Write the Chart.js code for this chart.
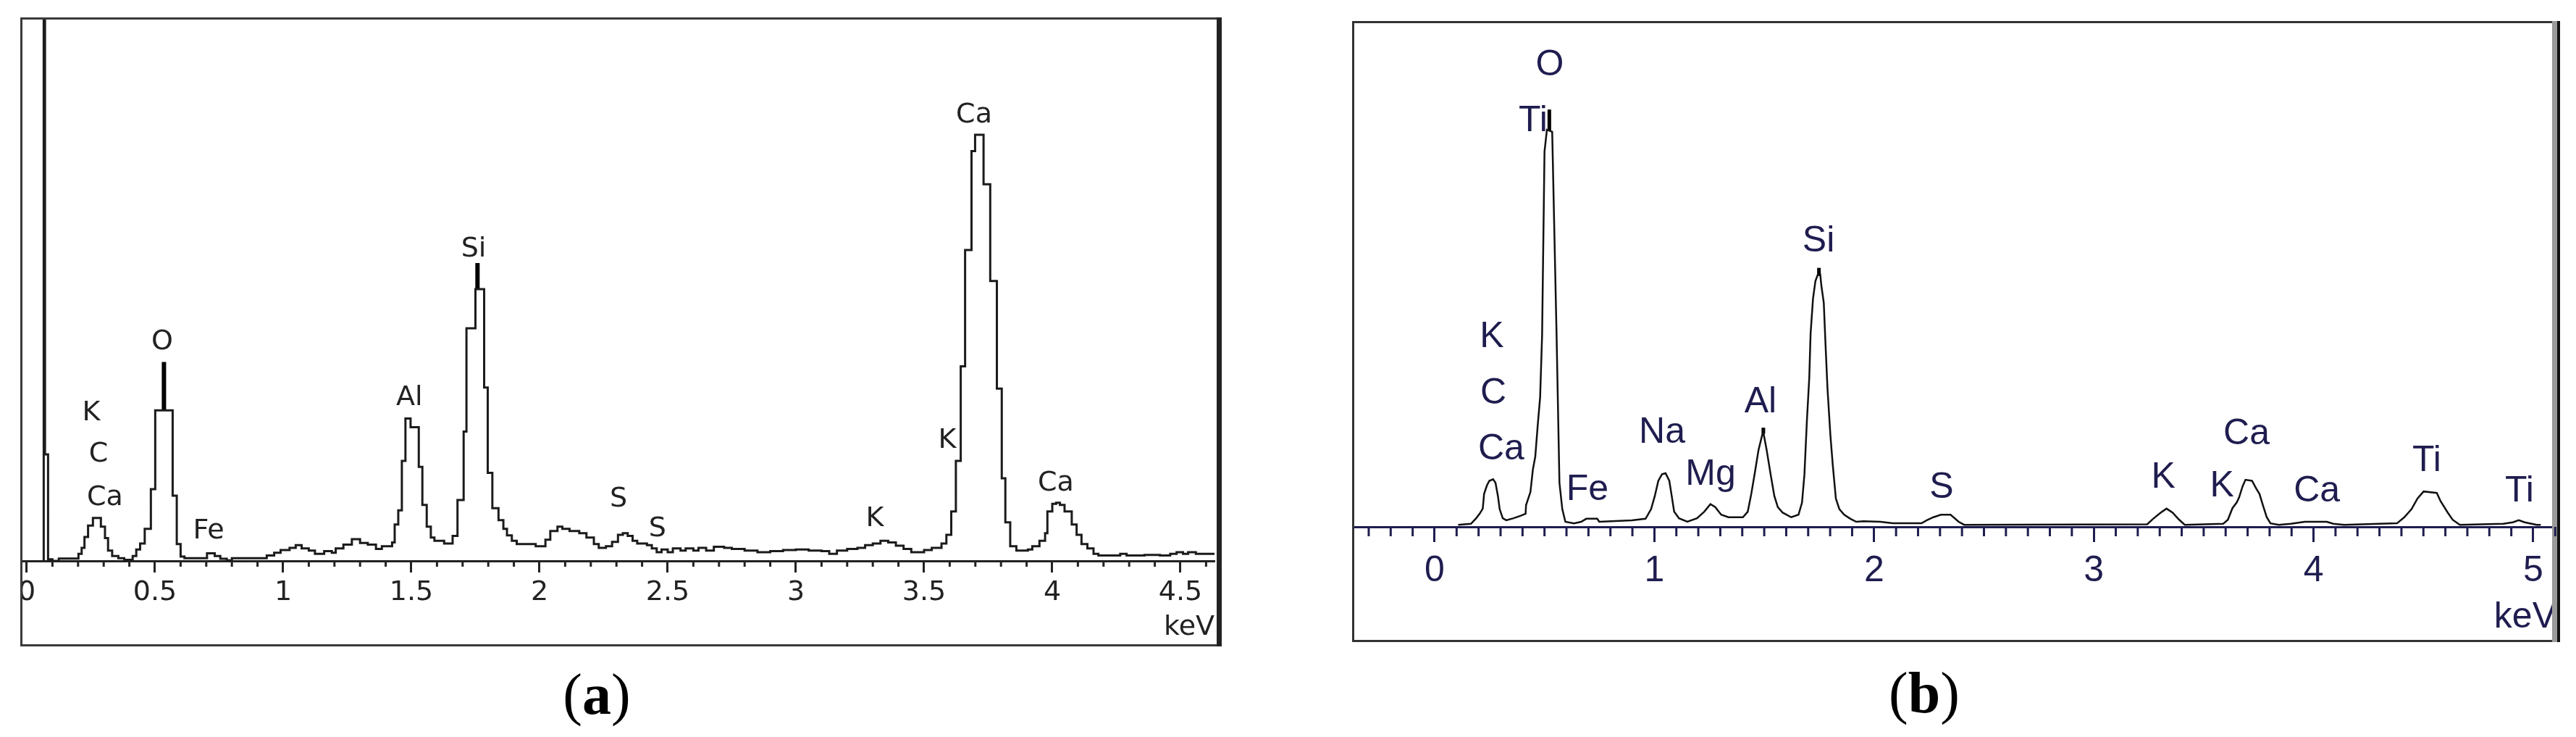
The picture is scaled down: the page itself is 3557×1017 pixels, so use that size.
<!DOCTYPE html>
<html>
<head>
<meta charset="utf-8">
<script src="https://cdn.jsdelivr.net/npm/chart.js"></script>
<style>
  html, body { margin: 0; padding: 0; background: #fff; }
  body { width: 3557px; height: 1017px; position: relative; overflow: hidden; }
  canvas { position: absolute; }
  #chartA { left: 28px; top: 24px; }
  #chartB { left: 1867px; top: 29px; }
  .tag { position: absolute; width: 200px; text-align: center; font-family: "Liberation Serif", serif; font-size: 80px; line-height: 80px; color: #000; }
</style>
</head>
<body>
<canvas id="chartA" width="1659" height="868"></canvas>
<canvas id="chartB" width="1668" height="857"></canvas>
<div class="tag" style="left:724px; top:918px">(<b>a</b>)</div>
<div class="tag" style="left:2557px; top:916px">(<b>b</b>)</div>
<script>
// (a) step outline: energy where each plateau starts (keV) and its height (% of full scale)
const aKeV = [0.066, 0.066, 0.071, 0.083, 0.100, 0.125, 0.2015, 0.214, 0.225, 0.239, 0.258, 0.289, 0.305, 0.317, 0.333, 0.357, 0.380,
  0.413, 0.427, 0.442, 0.460, 0.484, 0.501, 0.569, 0.585, 0.600, 0.615, 0.703, 0.733, 0.755, 0.780, 0.800, 0.936, 0.965, 0.990,
  1.025, 1.049, 1.072, 1.100, 1.124, 1.160, 1.190, 1.205, 1.235, 1.268, 1.300, 1.330, 1.362, 1.385, 1.425, 1.435, 1.449, 1.463,
  1.477, 1.497, 1.529, 1.543, 1.560, 1.576, 1.590, 1.628, 1.661, 1.680, 1.704, 1.715, 1.750, 1.784, 1.798, 1.816, 1.840, 1.859,
  1.873, 1.892, 1.911, 1.985, 2.023, 2.042, 2.070, 2.089, 2.117, 2.155, 2.183, 2.212, 2.231, 2.259, 2.283, 2.306, 2.325, 2.344,
  2.363, 2.381, 2.419, 2.438, 2.457, 2.476, 2.500, 2.520, 2.550, 2.570, 2.600, 2.620, 2.650, 2.680, 2.720, 2.750, 2.800, 2.850,
  2.900, 2.950, 3.000, 3.050, 3.100, 3.130, 3.160, 3.200, 3.240, 3.270, 3.300, 3.330, 3.360, 3.390, 3.420, 3.450, 3.500, 3.530,
  3.568, 3.587, 3.606, 3.624, 3.643, 3.660, 3.685, 3.699, 3.732, 3.758, 3.784, 3.803, 3.817, 3.836, 3.860, 3.905, 3.922, 3.950,
  3.972, 3.981, 4.000, 4.015, 4.030, 4.048, 4.076, 4.095, 4.114, 4.137, 4.161, 4.180, 4.265, 4.290, 4.360, 4.420, 4.460, 4.485,
  4.510, 4.530, 4.560, 4.633];
const aCounts = [0, 300, 19.6, 0.3, 0.0, 0.45, 1.3, 2.4, 4.4, 6.5, 7.9, 6.3, 4.2, 1.9, 0.9, 0.5, 0.2,
  0.9, 2.1, 3.2, 5.9, 13.2, 27.7, 12.0, 3.1, 0.8, 0.5, 1.4, 0.9, 0.4, 0.1, 0.5, 1.0, 1.5, 2.0,
  2.4, 2.9, 2.3, 1.9, 1.3, 1.8, 1.5, 2.3, 3.0, 4.0, 3.3, 3.0, 2.2, 2.7, 3.4, 6.7, 9.3, 18.4,
  26.2, 24.6, 17.3, 10.3, 6.3, 4.3, 3.7, 3.2, 4.6, 11.2, 23.8, 42.8, 50.0, 31.9, 16.2, 9.7, 7.5, 5.9,
  4.7, 3.7, 3.1, 2.7, 3.9, 5.5, 6.3, 5.9, 5.5, 5.1, 4.3, 3.1, 2.4, 2.7, 3.5, 4.8, 5.1, 4.6,
  3.7, 3.2, 2.9, 2.3, 1.6, 2.1, 1.6, 2.3, 1.9, 2.3, 1.9, 2.4, 1.9, 2.6, 2.4, 2.2, 1.9, 1.6,
  1.8, 2.0, 2.1, 1.9, 1.8, 1.3, 1.9, 2.2, 2.4, 2.9, 3.2, 3.7, 3.4, 2.8, 2.2, 1.6, 2.0, 2.4,
  3.2, 4.8, 9.1, 18.4, 35.8, 57.2, 75.4, 78.4, 69.3, 51.5, 31.7, 15.2, 7.1, 2.7, 1.9, 2.1, 2.7, 3.7,
  5.1, 9.1, 10.5, 10.7, 10.3, 9.1, 6.7, 4.8, 3.1, 2.3, 1.3, 1.0, 1.3, 1.0, 1.1, 1.0, 1.3, 1.6,
  1.3, 1.6, 1.3, 1.3];
const aMarkKeV = [0.535, 1.758];
const aMarkFrom = [27.7, 50.0];
const aMarkTo = [36.6, 54.8];
const aLabelText = ["K", "C", "Ca", "O", "Fe", "Al", "Si", "S", "S", "K", "K", "Ca", "Ca"];
const aLabelKeV = [0.251, 0.280, 0.305, 0.528, 0.709, 1.492, 1.743, 2.308, 2.460, 3.308, 3.590, 3.695, 4.014];
const aLabelVal = [27.2, 19.6, 11.6, 40.2, 5.5, 30.0, 57.3, 11.3, 5.9, 7.7, 22.1, 82.0, 14.2];
const aTickVal = [0, 0.5, 1, 1.5, 2, 2.5, 3, 3.5, 4, 4.5];
const aTickText = ["0", "0.5", "1", "1.5", "2", "2.5", "3", "3.5", "4", "4.5"];

// (b) traced outline: energy (keV) and height (% of full scale)
const bKeV = [0.107, 0.165, 0.172, 0.189, 0.205, 0.219, 0.225, 0.238, 0.249, 0.266, 0.277, 0.288, 0.296, 0.310, 0.326, 0.359,
  0.392, 0.414, 0.416, 0.436, 0.447, 0.458, 0.469, 0.480, 0.489, 0.500, 0.511, 0.535, 0.544, 0.555, 0.568, 0.581, 0.595,
  0.634, 0.667, 0.690, 0.740, 0.749, 0.898, 0.960, 0.985, 1.002, 1.018, 1.035, 1.051, 1.068, 1.079, 1.090, 1.112, 1.150,
  1.194, 1.227, 1.255, 1.277, 1.304, 1.337, 1.403, 1.425, 1.441, 1.458, 1.474, 1.491, 1.496, 1.511, 1.529, 1.546, 1.562,
  1.584, 1.623, 1.656, 1.672, 1.683, 1.694, 1.705, 1.711, 1.722, 1.733, 1.744, 1.755, 1.760, 1.771, 1.779, 1.788, 1.801,
  1.812, 1.826, 1.842, 1.864, 1.892, 1.919, 1.952, 2.029, 2.084, 2.216, 2.240, 2.270, 2.304, 2.348, 2.385, 2.410, 3.243,
  3.270, 3.304, 3.331, 3.359, 3.386, 3.414, 3.589, 3.610, 3.631, 3.650, 3.661, 3.677, 3.690, 3.720, 3.740, 3.754, 3.770,
  3.787, 3.804, 3.842, 3.897, 3.960, 4.060, 4.090, 4.139, 4.380, 4.413, 4.446, 4.473, 4.501, 4.561, 4.578, 4.611, 4.633,
  4.666, 4.864, 4.907, 4.934, 4.961, 5.016, 5.034];
const bCounts = [0.4, 0.6, 0.9, 1.7, 2.6, 3.6, 6.5, 8.2, 9.1, 9.4, 8.7, 6.1, 3.5, 1.7, 1.3, 1.7,
  2.2, 2.6, 4.3, 6.9, 11.3, 13.9, 20.0, 25.6, 37.8, 74.2, 78.5, 78.1, 59.9, 37.8, 8.7, 3.5, 1.0,
  0.7, 1.0, 1.6, 1.6, 1.0, 1.3, 1.6, 3.5, 6.1, 9.1, 10.4, 10.6, 9.1, 6.1, 3.0, 1.7, 1.0,
  1.7, 3.0, 4.5, 3.9, 2.4, 1.9, 1.9, 3.0, 6.5, 10.9, 15.2, 18.2, 18.7, 15.2, 10.4, 6.1, 3.9,
  2.8, 1.9, 2.4, 4.8, 10.4, 20.8, 29.5, 38.2, 45.1, 48.6, 49.9, 49.9, 47.7, 44.3, 36.0, 27.3, 18.2,
  12.2, 5.6, 3.5, 2.4, 1.6, 1.0, 1.1, 1.0, 0.7, 0.7, 1.3, 1.9, 2.4, 2.4, 1.0, 0.4, 0.5,
  1.6, 2.8, 3.6, 2.8, 1.5, 0.4, 0.6, 1.4, 3.7, 4.8, 5.8, 8.0, 9.3, 9.1, 7.5, 6.5, 4.2,
  1.9, 0.7, 0.4, 0.6, 1.0, 1.0, 0.6, 0.4, 0.7, 1.9, 3.5, 5.6, 7.0, 6.7, 5.1, 2.8, 1.4,
  0.4, 0.6, 0.9, 1.3, 0.9, 0.4, 0.4];
const bMarkKeV = [0.522, 1.496, 1.749];
const bMarkFrom = [78.3, 18.4, 49.6];
const bMarkTo = [82.5, 19.6, 51.2];
const bLabelText = ["O", "Ti", "K", "C", "Ca", "Fe", "Na", "Mg", "Al", "Si", "S", "K", "K", "Ca", "Ca", "Ti", "Ti"];
const bLabelKeV = [0.524, 0.448, 0.260, 0.267, 0.303, 0.695, 1.035, 1.256, 1.483, 1.747, 2.307, 3.316, 3.583, 3.695, 4.015, 4.515, 4.937];
const bLabelVal = [91.3, 80.2, 37.5, 26.4, 15.3, 7.3, 18.6, 10.3, 24.6, 56.4, 7.7, 9.7, 8.0, 18.3, 7.0, 13.0, 7.0];
const bTickVal = [0, 1, 2, 3, 4, 5];
const bTickText = ["0", "1", "2", "3", "4", "5"];

// box round the plot, with the heavier right edge
const frame = {
  id: "frame",
  afterDraw(chart, args, opts) {
    const { ctx, width, height } = chart;
    ctx.save();
    ctx.strokeStyle = opts.color;
    ctx.lineWidth = opts.width;
    ctx.strokeRect(opts.width / 2, opts.width / 2, width - opts.width, height - opts.width);
    opts.right.forEach(([w, color, off]) => {
      ctx.fillStyle = color;
      ctx.fillRect(width - off - w, 0, w, height);
    });
    ctx.restore();
  },
};

// short ticks every 0.1 keV between the labelled ones
const minorTicks = {
  id: "minorTicks",
  afterDraw(chart, args, opts) {
    const x = chart.scales.x;
    const ctx = chart.ctx;
    const y0 = chart.chartArea.bottom;
    ctx.save();
    ctx.strokeStyle = opts.color;
    ctx.lineWidth = opts.width;
    for (let k = Math.ceil(x.min * 10); k <= Math.floor(x.max * 10); k++) {
      if (k % opts.every === 0) continue;
      const px = x.getPixelForValue(k / 10);
      ctx.beginPath();
      ctx.moveTo(px, y0);
      ctx.lineTo(px, y0 + opts.length);
      ctx.stroke();
    }
    ctx.restore();
  },
};

// element names over the peaks
const peakLabels = {
  id: "peakLabels",
  afterDatasetsDraw(chart, args, opts) {
    const { ctx, scales: { x, y } } = chart;
    ctx.save();
    ctx.font = opts.font;
    ctx.fillStyle = opts.color;
    ctx.textAlign = "center";
    ctx.textBaseline = "middle";
    opts.text.forEach((t, i) => {
      ctx.fillText(t, x.getPixelForValue(opts.keV[i]), y.getPixelForValue(opts.val[i]));
    });
    ctx.restore();
  },
};

function spectrum(id, p) {
  const markers = p.markKeV.map((k, i) => ({
    data: [{ x: k, y: p.markFrom[i] }, { x: k, y: p.markTo[i] }],
    borderColor: "#000",
    borderWidth: p.markWidth,
    borderCapStyle: "butt",
    pointRadius: 0,
  }));
  return new Chart(document.getElementById(id), {
    type: "line",
    data: {
      datasets: [
        {
          data: p.keV.map((k, i) => ({ x: k, y: p.counts[i] })),
          stepped: p.stepped,
          tension: 0,
          borderColor: p.lineColor,
          borderWidth: p.lineWidth,
          pointRadius: 0,
          fill: false,
        },
        ...markers,
      ],
    },
    options: {
      responsive: false,
      animation: false,
      devicePixelRatio: 1,
      layout: { padding: { left: 0, right: p.padRight, top: 0, bottom: 0 } },
      plugins: {
        legend: { display: false },
        tooltip: { enabled: false },
        frame: p.frame,
        minorTicks: { color: p.textColor, width: 3, length: p.minorLen, every: p.every },
        peakLabels: { text: p.labelText, keV: p.labelKeV, val: p.labelVal, font: p.fontPx + "px " + p.family, color: p.textColor },
      },
      scales: {
        y: { display: false, min: 0, max: 100 },
        x: {
          type: "linear",
          min: p.min,
          max: p.max,
          offset: false,
          afterBuildTicks: (s) => { s.ticks = p.tickVal.map((v) => ({ value: v })); },
          afterFit: (s) => { s.height = p.axisHeight; s.paddingLeft = 0; s.paddingRight = 0; },
          ticks: {
            autoSkip: false,
            maxRotation: 0,
            minRotation: 0,
            padding: p.tickPad,
            color: p.textColor,
            font: { family: p.family, size: p.fontPx },
            callback: (v, i) => p.tickText[i],
          },
          grid: { drawOnChartArea: false, drawTicks: true, tickLength: p.majorLen, tickWidth: 3, tickColor: p.textColor, offset: false },
          border: { display: true, color: p.textColor, width: 3 },
          title: {
            display: true,
            text: "keV",
            align: "end",
            color: p.textColor,
            font: { family: p.family, size: p.fontPx },
            padding: { top: 0, bottom: p.titlePad },
          },
        },
      },
    },
    plugins: [frame, minorTicks, peakLabels],
  });
}

spectrum("chartA", {
  keV: aKeV, counts: aCounts, stepped: true, lineColor: "#1b1b1b", lineWidth: 3,
  markKeV: aMarkKeV, markFrom: aMarkFrom, markTo: aMarkTo, markWidth: 6,
  labelText: aLabelText, labelKeV: aLabelKeV, labelVal: aLabelVal,
  tickVal: aTickVal, tickText: aTickText,
  min: -0.0254, max: 4.6328, padRight: 10, axisHeight: 118,
  family: "'DejaVu Sans'", fontPx: 38, textColor: "#222",
  tickPad: 5, majorLen: 16, minorLen: 8, every: 5, titlePad: 3,
  frame: { color: "#3a3a3a", width: 3, right: [[7, "#222", 0]] },
});

spectrum("chartB", {
  keV: bKeV, counts: bCounts, stepped: false, lineColor: "#111", lineWidth: 2.5,
  markKeV: bMarkKeV, markFrom: bMarkFrom, markTo: bMarkTo, markWidth: 5,
  labelText: bLabelText, labelKeV: bLabelKeV, labelVal: bLabelVal,
  tickVal: bTickVal, tickText: bTickText,
  min: -0.3757, max: 5.1055, padRight: 5, axisHeight: 159,
  family: "'Liberation Sans'", fontPx: 50, textColor: "#1f1d4f",
  tickPad: 10, majorLen: 21, minorLen: 13, every: 10, titlePad: 4,
  frame: { color: "#333", width: 3, right: [[7, "#9a9a9a", 4], [4, "#111", 0]] },
});
</script>
</body>
</html>
